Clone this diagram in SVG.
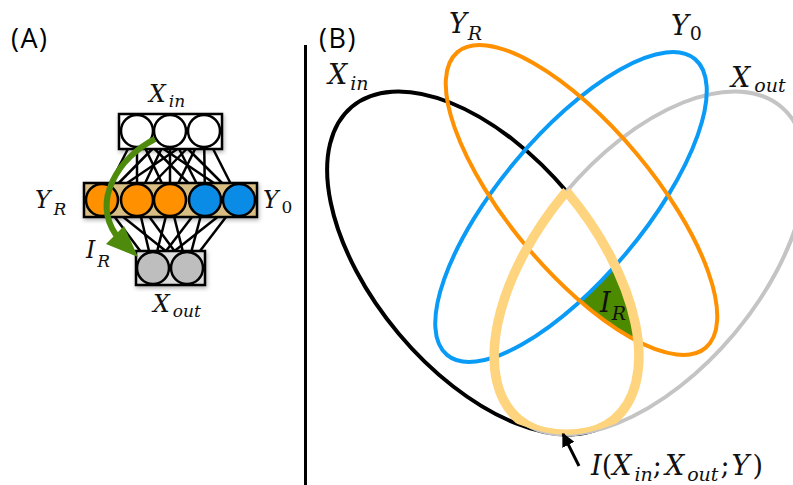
<svg xmlns="http://www.w3.org/2000/svg" width="793" height="485" viewBox="0 0 793 485">
<style>
.m{font-family:"DejaVu Serif","Liberation Serif",serif;font-style:italic;fill:#111}
.u{font-style:normal}
.lab{font-family:"Open Sans","Liberation Sans",sans-serif;font-size:27px;letter-spacing:1.5px;fill:#000}
.box{stroke:#000;stroke-width:2.5}
.nd{stroke:#000;stroke-width:2.5}
.edge line{stroke:#000;stroke-width:2.5}
.ell{fill:none;stroke-width:4}
.yel{fill:none;stroke:#FFD47E;stroke-width:9.5}
</style>
<defs>
<filter id="sh" x="-20%" y="-20%" width="140%" height="140%"><feDropShadow dx="1" dy="2" stdDeviation="2" flood-color="#000" flood-opacity="0.3"/></filter>
<clipPath id="cIn"><ellipse cx="483" cy="263" rx="204" ry="110" transform="rotate(50 483 263)"/></clipPath>
<clipPath id="cOut"><ellipse cx="650" cy="263" rx="204" ry="110" transform="rotate(-50 650 263)"/></clipPath>
<clipPath id="cYR"><ellipse cx="581.5" cy="200" rx="193" ry="72" transform="rotate(50 581.5 200)"/></clipPath>
<mask id="mY0"><rect x="300" y="0" width="493" height="485" fill="#fff"/><ellipse cx="571" cy="207" rx="193" ry="72" transform="rotate(-50 571 207)" fill="#000"/></mask>
<marker id="ah" viewBox="0 0 10 10" refX="9" refY="5" markerWidth="4.5" markerHeight="4.5" orient="auto" markerUnits="strokeWidth"><path d="M0,0 L10,5 L0,10 Z" fill="#000"/></marker>
</defs>

<text class="lab" x="11" y="48">(A)</text>
<text class="lab" x="319" y="48">(B)</text>
<line x1="305.5" y1="45" x2="305.5" y2="485" stroke="#000" stroke-width="3"/>

<!-- Panel A network -->
<g id="connectors-a" class="edge">
<line x1="137" y1="131" x2="102" y2="200"/><line x1="137" y1="131" x2="137" y2="200"/><line x1="137" y1="131" x2="170" y2="200"/><line x1="137" y1="131" x2="205" y2="200"/><line x1="137" y1="131" x2="239" y2="200"/>
<line x1="170" y1="131" x2="102" y2="200"/><line x1="170" y1="131" x2="137" y2="200"/><line x1="170" y1="131" x2="170" y2="200"/><line x1="170" y1="131" x2="205" y2="200"/><line x1="170" y1="131" x2="239" y2="200"/>
<line x1="204" y1="131" x2="102" y2="200"/><line x1="204" y1="131" x2="137" y2="200"/><line x1="204" y1="131" x2="170" y2="200"/><line x1="204" y1="131" x2="205" y2="200"/><line x1="204" y1="131" x2="239" y2="200"/>
<line x1="102" y1="200" x2="153" y2="268"/><line x1="102" y1="200" x2="187" y2="268"/>
<line x1="137" y1="200" x2="153" y2="268"/><line x1="137" y1="200" x2="187" y2="268"/>
<line x1="170" y1="200" x2="153" y2="268"/><line x1="170" y1="200" x2="187" y2="268"/>
<line x1="205" y1="200" x2="153" y2="268"/><line x1="205" y1="200" x2="187" y2="268"/>
<line x1="239" y1="200" x2="153" y2="268"/><line x1="239" y1="200" x2="187" y2="268"/>
</g>
<g id="layer-xin">
<rect class="box" x="119" y="114" width="103" height="35" fill="#fff" filter="url(#sh)"/>
<circle class="nd" cx="137" cy="131" r="16" fill="#fff"/><circle class="nd" cx="170" cy="131" r="16" fill="#fff"/><circle class="nd" cx="204" cy="131" r="16" fill="#fff"/>
</g>
<g id="layer-y">
<rect class="box" x="84" y="183" width="173" height="34" fill="#D9BE84" filter="url(#sh)"/>
<circle class="nd" cx="102" cy="200" r="16" fill="#FF9100"/><circle class="nd" cx="137" cy="200" r="16" fill="#FF9100"/><circle class="nd" cx="170" cy="200" r="16" fill="#FF9100"/>
<circle class="nd" cx="205" cy="200" r="16" fill="#0A8BE6"/><circle class="nd" cx="239" cy="200" r="16" fill="#0A8BE6"/>
</g>
<g id="layer-xout">
<rect class="box" x="136" y="251" width="69" height="34" fill="#ddd" filter="url(#sh)"/>
<circle class="nd" cx="153" cy="268" r="16" fill="#BEBEBE"/><circle class="nd" cx="187" cy="268" r="16" fill="#BEBEBE"/>
</g>
<g id="arrow-ir">
<path d="M155,139 C118,158 92,200 116,235" fill="none" stroke="#4E8B0C" stroke-width="6"/>
<path d="M106,244 L138,257 L124,226 Z" fill="#4E8B0C"/>
</g>
<text class="m" font-size="23.5" x="149" y="102">X<tspan font-size="17" dx="3" dy="5">in</tspan></text>
<text class="m" font-size="23.5" x="35" y="208">Y<tspan font-size="17" dx="3" dy="7">R</tspan></text>
<text class="m" font-size="23.5" x="263" y="208">Y<tspan class="u" font-size="17" dx="3" dy="5">0</tspan></text>
<text class="m" font-size="23.5" x="86" y="258">I<tspan font-size="17" dx="2" dy="9">R</tspan></text>
<text class="m" font-size="23.5" x="153" y="312">X<tspan font-size="17" dx="3" dy="5">out</tspan></text>

<!-- Panel B -->
<g id="ir-region" clip-path="url(#cYR)"><g clip-path="url(#cIn)"><g clip-path="url(#cOut)">
<rect x="300" y="0" width="493" height="485" fill="#4C8A00" mask="url(#mY0)"/>
</g></g></g>
<g id="x-in"><ellipse class="ell" stroke="#000" cx="483" cy="263" rx="204" ry="110" transform="rotate(50 483 263)"/></g>
<g id="x-out"><ellipse class="ell" stroke="#C4C4C4" cx="650" cy="263" rx="204" ry="110" transform="rotate(-50 650 263)"/></g>
<g id="y-0"><ellipse class="ell" stroke="#0A9BF7" cx="571" cy="207" rx="193" ry="72" transform="rotate(-50 571 207)"/></g>
<g id="y-r"><ellipse class="ell" stroke="#FF9100" cx="581.5" cy="200" rx="193" ry="72" transform="rotate(50 581.5 200)"/></g>
<g id="mi-outline">
<g clip-path="url(#cOut)"><ellipse class="yel" cx="483" cy="263" rx="204" ry="110" transform="rotate(50 483 263)"/></g>
<g clip-path="url(#cIn)"><ellipse class="yel" cx="650" cy="263" rx="204" ry="110" transform="rotate(-50 650 263)"/></g>
</g>
<g id="connectors-b">
<line x1="579" y1="466" x2="563" y2="434" stroke="#000" stroke-width="3" marker-end="url(#ah)"/>
</g>
<text class="m" font-size="27" x="328" y="84">X<tspan font-size="19" dx="3" dy="6">in</tspan></text>
<text class="m" font-size="27" x="449" y="33">Y<tspan font-size="19" dx="1" dy="7">R</tspan></text>
<text class="m" font-size="27" x="671" y="35">Y<tspan class="u" font-size="19" dx="1" dy="5">0</tspan></text>
<text class="m" font-size="27" x="731" y="87">X<tspan font-size="19" dx="4" dy="5">out</tspan></text>
<text class="m" font-size="27" x="600" y="312">I<tspan font-size="19" dx="1" dy="8">R</tspan></text>
<text class="m" font-size="27" x="591" y="475">I<tspan class="u">(</tspan>X<tspan font-size="19" dx="3" dy="6">in</tspan><tspan class="u" dy="-6">;</tspan><tspan dx="3">X</tspan><tspan font-size="19" dx="3" dy="6">out</tspan><tspan class="u" dx="2" dy="-6">;</tspan><tspan dx="2">Y</tspan><tspan class="u" dx="3">)</tspan></text>
</svg>
